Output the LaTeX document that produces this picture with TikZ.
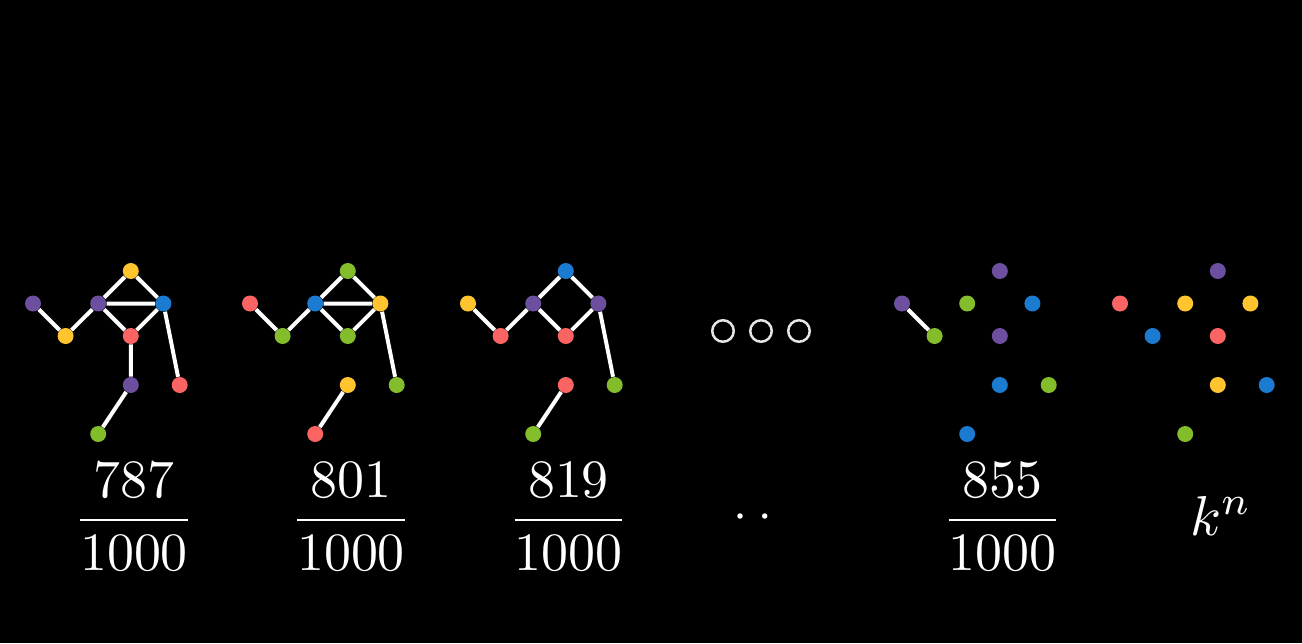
\documentclass[tikz,border=0pt]{standalone}
\usepackage{amsmath}
\usetikzlibrary{positioning}
\definecolor{vio}{HTML}{6C4F9E}
\definecolor{yel}{HTML}{FFC42E}
\definecolor{blu}{HTML}{1B7BD1}
\definecolor{red}{HTML}{FC6464}
\definecolor{grn}{HTML}{83BD2B}
\definecolor{ringgray}{HTML}{E6E6E6}

\begin{document}
\begin{tikzpicture}[
  x=0.02cm, y=-0.02cm,
  dot/.style={circle, fill=#1, inner sep=0pt, minimum size=0.32cm},
  link/.style={white, line width=0.08cm},
  ring/.style={circle, draw=ringgray, line width=0.05cm, inner sep=0pt, minimum size=0.43cm},
  tick/.style={circle, fill=white, inner sep=0pt, minimum size=0.11cm},
  ratio/.style={text=white, scale=3.07, anchor=base}
]
\fill[black] (0,0) rectangle (1302,643);
\useasboundingbox (0,0) rectangle (1302,643);

% nine places per graph, columns 32.6 apart
\foreach \g/\xo/\ca/\cb/\cc/\cd/\ce/\cf/\cg/\ch/\ci in {
  a/33/vio/yel/vio/yel/blu/red/vio/red/grn,
  b/250/red/grn/blu/grn/yel/grn/yel/grn/red,
  c/468/yel/red/vio/blu/vio/red/red/grn/grn,
  d/902/vio/grn/grn/vio/blu/vio/blu/grn/blu,
  e/1120/red/blu/yel/vio/yel/red/yel/blu/grn}{
  \node[dot=\ca] (\g1) at (\xo, 303.5) {};
  \node[dot=\cb] (\g2) at (\xo+32.6, 336) {};
  \node[dot=\cc] (\g3) at (\xo+65.2, 303.5) {};
  \node[dot=\cd] (\g4) at (\xo+97.8, 271) {};
  \node[dot=\ce] (\g5) at (\xo+130.4, 303.5) {};
  \node[dot=\cf] (\g6) at (\xo+97.8, 336) {};
  \node[dot=\cg] (\g7) at (\xo+97.8, 385) {};
  \node[dot=\ch] (\g8) at (\xo+146.7, 385) {};
  \node[dot=\ci] (\g9) at (\xo+65.2, 434) {};
}

% edges
\draw[link] (a1) -- (a2) -- (a3) -- (a4) -- (a5) -- (a3);
\draw[link] (a3) -- (a6) -- (a5) -- (a8);
\draw[link] (a6) -- (a7) -- (a9);

\draw[link] (b1) -- (b2) -- (b3) -- (b4) -- (b5) -- (b3);
\draw[link] (b3) -- (b6) -- (b5) -- (b8);
\draw[link] (b7) -- (b9);

\draw[link] (c1) -- (c2) -- (c3) -- (c4) -- (c5);
\draw[link] (c3) -- (c6) -- (c5) -- (c8);
\draw[link] (c7) -- (c9);

\draw[link] (d1) -- (d2);

% the gap
\node[ring] (o1) at (723,331) {};
\node[ring] (o2) at (761,331) {};
\node[ring] (o3) at (799,331) {};
\node[tick] (p1) at (740,516) {};
\node[tick, right=0.37cm of p1] (p2) {};

% counts
\node[ratio] (f1) at (134,533.5) {$\dfrac{787}{1000}$};
\node[ratio] (f2) at (351,533.5) {$\dfrac{801}{1000}$};
\node[ratio] (f3) at (568.5,533.5) {$\dfrac{819}{1000}$};
\node[ratio] (f4) at (1002.5,533.5) {$\dfrac{855}{1000}$};
\node[text=white, scale=3.2, anchor=base] (kn) at (1221,535) {$k^n$};
\end{tikzpicture}
\end{document}
